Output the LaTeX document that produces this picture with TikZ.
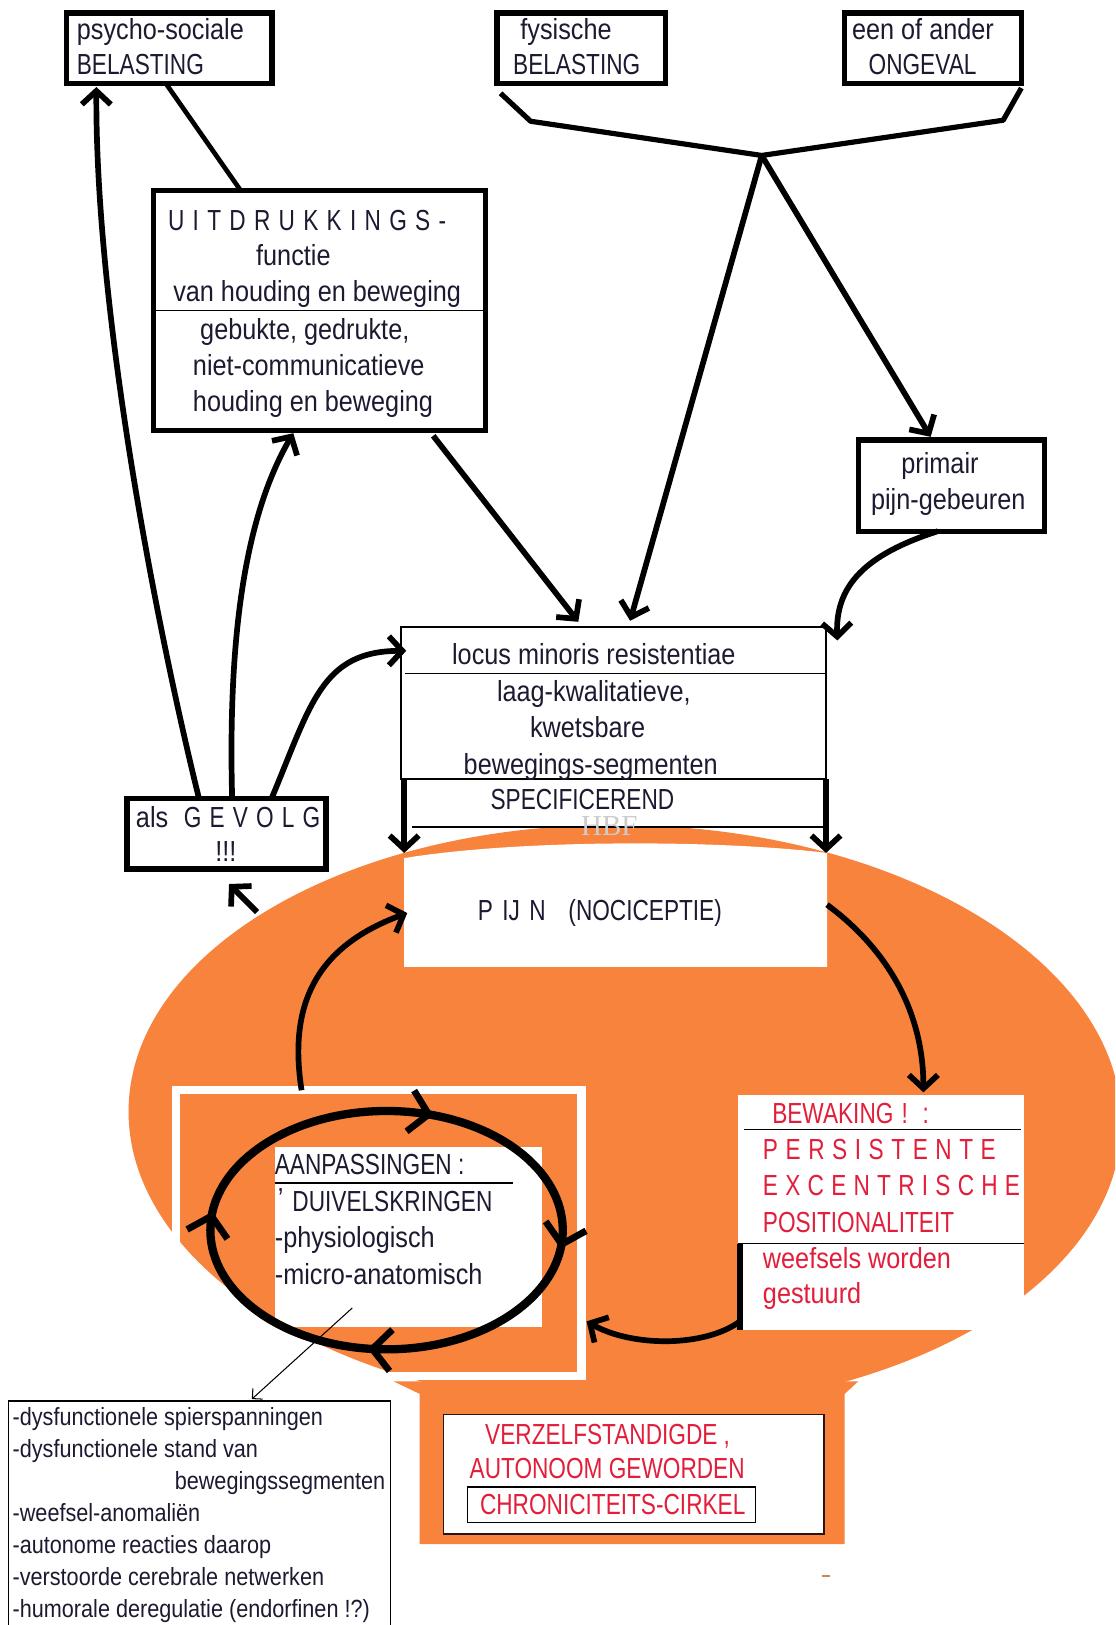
\documentclass[tikz,border=0pt]{standalone}
\usepackage{fontspec}
\setmainfont[FakeStretch=0.87]{Liberation Sans}
\newfontfamily\capf[FakeStretch=0.78]{Liberation Sans}
\newfontfamily\wmf{Liberation Serif}
\usetikzlibrary{arrows.meta,decorations.markings}
\definecolor{ink}{RGB}{28,26,48}
\definecolor{redt}{RGB}{226,30,58}
\definecolor{orng}{RGB}{247,131,61}
\begin{document}
\begin{tikzpicture}[x=1pt,y=-1pt,
  fs/.style={font=\fontsize{28}{34}\selectfont},
  fsc/.style={font=\fontsize{28}{34}\selectfont\capf},
  fsl/.style={font=\fontsize{24}{30}\selectfont},
  lbl/.style={inner sep=0pt, anchor=base west, text=ink, fs},
  clbl/.style={lbl, fsc},
  mlbl/.style={inner sep=0pt, anchor=base, text=ink, fs},
  rlbl/.style={clbl, text=redt},
  rlow/.style={lbl, text=redt},
  llbl/.style={lbl, fsl},
  tbox/.style={draw=black, line width=5pt, inner sep=0pt, outer sep=0pt, fill=white},
  area/.style={inner sep=0pt, outer sep=0pt},
  conn/.style={draw=black, line width=5.5pt},
  arr/.style={conn, -{Straight Barb[length=13pt,width=28pt]}},
  thinl/.style={draw=black, line width=1.6pt},
  ringtip/.style={line width=6.5pt},
]
\useasboundingbox (0,0) rectangle (1076,1568);
\fill[white] (0,0) rectangle (1076,1568);

% ---------- orange background ----------
\begin{scope}
\clip (0,0) rectangle (1076,1568);
\fill[orng, rotate around={-1:(603,1078)}] (603,1078) ellipse [x radius=479, y radius=282];
\fill[orng] (380,1333) -- (828,1333) -- (815,1345) -- (815,1490) -- (405,1490) -- (405,1345) -- cycle;
\end{scope}

% ---------- top boxes ----------
\node[tbox, minimum width=198pt, minimum height=68pt] (ps) at (163.5,46.5) {};
\node[tbox, minimum width=163pt, minimum height=68pt] (fy) at (561,46.5) {};
\node[tbox, minimum width=171pt, minimum height=68pt] (ea) at (900,46.5) {};
\node[lbl] (ps1) at (74,38) {psycho-sociale};
\node[clbl] (ps2) at (74,72) {BELASTING};
\node[lbl] (fy1) at (502,38) {fysische};
\node[clbl] (fy2) at (495,72) {BELASTING};
\node[lbl] (ea1) at (822,38) {een of ander};
\node[clbl] (ea2) at (838,72) {ONGEVAL};

% ---------- UITDRUKKINGS box ----------
\node[tbox, minimum width=320pt, minimum height=232pt] (ui) at (308.5,299.5) {};
\draw[thinl] ([xshift=2pt]ui.west) -- ([xshift=-2pt]ui.east);
\node[clbl] (ui1) at (162,222) {\spaceskip=8pt U I T D R U K K I N G S -};
\node[lbl] (ui2) at (247,256) {functie};
\node[lbl] (ui3) at (167,291) {van houding en beweging};
\node[lbl] (ui4) at (193,328) {gebukte, gedrukte,};
\node[lbl] (ui5) at (186,362) {niet-communicatieve};
\node[lbl] (ui6) at (186,397) {houding en beweging};

% ---------- primair ----------
\node[tbox, minimum width=179pt, minimum height=88pt] (pr) at (918,468.5) {};
\node[mlbl] (pr1) at (907,457) {primair};
\node[mlbl] (pr2) at (915,492) {pijn-gebeuren};

% ---------- locus box ----------
\node[area, draw=black, line width=1.5pt, fill=white, minimum width=410pt, minimum height=147pt] (lo) at (592,678.5) {};
\node[area, fill=white, minimum width=410pt, minimum height=46pt] (sp) at (592,775) {};
\draw[thinl] ([shift={(4pt,28.5pt)}]lo.west) -- ([yshift=28.5pt]lo.east);
\draw[draw=black, line width=2.2pt] (lo.south west) -- (lo.south east);
\draw[thinl] ([xshift=11pt]sp.south west) -- ([xshift=-2pt]sp.south east);
\node[mlbl] (lo1) at (573,641) {locus minoris resistentiae};
\node[mlbl] (lo2) at (573,677) {laag-kwalitatieve,};
\node[mlbl] (lo3) at (567,712) {kwetsbare};
\node[mlbl] (lo4) at (570,747) {bewegings-segmenten};
\node[mlbl, fsc] (lo5) at (562,781) {SPECIFICEREND};

% ---------- PIJN ----------
\fill[white] (390,828) .. controls (500,810) and (690,810) .. (798,823) -- (798,933) -- (390,933) -- cycle;
\node[area, minimum width=408pt, minimum height=110pt] (pj) at (594,878) {};
\node[clbl] (pjt) at (461,888) {P\hspace{9pt}IJ\hspace{9pt}N\hspace{22pt}(NOCICEPTIE)};
\node[inner sep=0pt, anchor=base, font=\fontsize{28}{34}\selectfont\wmf, text=black!20] (hbf) at (588,806) {HBF};

% ---------- als GEVOLG ----------
\node[tbox, minimum width=192pt, minimum height=68pt] (gv) at (218.5,804.5) {};
\node[lbl] (gv1) at (131,798) {als\hspace{15pt}{\capf\spaceskip=7.9pt G E V O L G}};
\node[mlbl] (gv2) at (218,831) {!!!};

% ---------- left box (AANPASSINGEN) ----------
\node[area, draw=white, line width=8pt, minimum width=391pt, minimum height=276pt] (lb) at (365.5,1190) {};
\node[area, fill=white, minimum width=258pt, minimum height=173pt] (aw) at (394,1193.5) {};
\draw[line width=8pt, postaction={decorate}, decoration={markings,
  mark=at position 0.02 with {\arrow[ringtip]{Straight Barb[length=18pt,width=40pt]}},
  mark=at position 0.27 with {\arrow[ringtip]{Straight Barb[length=18pt,width=40pt]}},
  mark=at position 0.52 with {\arrow[ringtip]{Straight Barb[length=18pt,width=40pt]}},
  mark=at position 0.80 with {\arrow[ringtip]{Straight Barb[length=18pt,width=40pt]}}}]
  (373,1187) ellipse [x radius=170, y radius=115];
\node[clbl] (lb1) at (265,1133) {AANPASSINGEN :};
\draw[thinl] ([yshift=52pt]aw.west) -- (495,1141.5);
\node[lbl] (lb2a) at (268,1166) {'};
\node[clbl] (lb2) at (282,1169) {DUIVELSKRINGEN};
\node[lbl] (lb3) at (265,1204) {-physiologisch};
\node[lbl] (lb4) at (265,1239) {-micro-anatomisch};

% ---------- BEWAKING ----------
\node[area, fill=white, minimum width=276pt, minimum height=226pt] (bw) at (850,1170) {};
\draw[thinl] ([shift={(6pt,-33pt)}]bw.north west) -- ([shift={(-3pt,-33pt)}]bw.north east);
\draw[thinl] ([yshift=-143pt]bw.north west) -- ([yshift=-143pt]bw.north east);
\draw[draw=black, line width=5pt] ([shift={(2pt,-143pt)}]bw.north west) -- ([xshift=2pt]bw.south west);
\node[rlbl] (bw1) at (745,1084) {BEWAKING\hspace{8pt}!\hspace{14pt}:};
\node[rlbl] (bw2) at (736,1119) {\spaceskip=7.3pt P E R S I S T E N T E};
\node[rlbl] (bw3) at (736,1154) {\spaceskip=7.0pt E X C E N T R I S C H E};
\node[rlbl] (bw4) at (736,1189) {POSITIONALITEIT};
\node[rlow] (bw5) at (736,1224) {weefsels worden};
\node[rlow] (bw6) at (736,1258) {gestuurd};

% ---------- VERZELFSTANDIGDE ----------
\node[area, draw={rgb,255:red,45;green,20;blue,20}, line width=1.6pt, fill=white, minimum width=367pt, minimum height=115pt] (vz) at (611.5,1422.5) {};
\node[area, draw=black, line width=1.4pt, minimum width=278pt, minimum height=34pt] (cb) at (590,1452) {};
\node[rlbl] (vz1) at (468,1394) {VERZELFSTANDIGDE ,};
\node[rlbl] (vz2) at (453,1427) {AUTONOOM GEWORDEN};
\node[rlbl] (vz3) at (463,1461) {CHRONICITEITS-CIRKEL};

% ---------- list box ----------
\node[area, minimum width=369pt, minimum height=216pt] (ls) at (192.5,1460) {};
\draw[thinl, line width=1.3pt] (ls.south west) -- (ls.north west) -- (ls.north east) -- (ls.south east);
\node[llbl] (l1) at (12,1375) {-dysfunctionele spierspanningen};
\node[llbl] (l2) at (12,1406) {-dysfunctionele stand van};
\node[llbl, anchor=base east] (l3) at (372,1437) {bewegingssegmenten};
\node[llbl] (l4) at (12,1468) {-weefsel-anomaliën};
\node[llbl] (l5) at (12,1499) {-autonome reacties daarop};
\node[llbl] (l6) at (12,1530) {-verstoorde cerebrale netwerken};
\node[llbl] (l7) at (12,1561) {-humorale deregulatie (endorfinen !?)};

% ---------- connectors ----------
\coordinate (ap) at (735,150);
\draw[conn, line width=5pt, line join=round] ([shift={(3.5pt,-9.5pt)}]fy.south west) -- (512,117) -- (ap) -- (968,116) -- ([yshift=-4.5pt]ea.south east);
\draw[arr] (ap) -- ([shift={(16pt,6pt)}]lo.north);
\draw[arr] (ap) -- ([shift={(-20pt,3pt)}]pr.north);
\draw[arr] ([xshift=-13pt]pr.south) .. controls (835,535) and (806,565) .. ([shift={(11pt,-13pt)}]lo.north east);
\draw[conn, line width=4.5pt] ([xshift=-3.5pt]ps.south) -- ([xshift=-76.5pt]ui.north);
\draw[arr] ([shift={(109.5pt,-5pt)}]ui.south) -- ([shift={(-34pt,5pt)}]lo.north);
\draw[arr] ([xshift=-26.5pt]gv.north) .. controls (150,600) and (92,300) .. ([shift={(28.5pt,-3.5pt)}]ps.south west);
\draw[arr] ([xshift=5.5pt]gv.north) .. controls (220,620) and (235,500) .. ([shift={(-25.5pt,-2.5pt)}]ui.south);
\draw[arr] ([xshift=43.5pt]gv.north) .. controls (300,680) and (310,628) .. ([shift={(5pt,50.5pt)}]lo.west);
\coordinate (g0) at (248,880);
\draw[arr] (g0) -- ([shift={(2.5pt,-14.5pt)}]gv.south);
\draw[arr] ([xshift=3pt]lo.south west) -- (pj.north west);
\draw[arr] (lo.south east) -- ([xshift=-1pt]pj.north east);
\draw[arr] ([yshift=5pt]pj.east) .. controls (855,915) and (891,975) .. ([shift={(41pt,3pt)}]bw.north);
\draw[arr] ([shift={(2pt,8pt)}]bw.south west) .. controls (680,1300) and (610,1300) .. ([shift={(5pt,-85pt)}]lb.east);
\draw[arr] ([xshift=-74.5pt]lb.north) .. controls (279,975) and (300,915) .. ([shift={(3pt,-3pt)}]pj.west);
\coordinate (t0) at (340,1262);
\draw[draw=black, line width=1pt, -{Straight Barb[length=7pt,width=14pt]}] (t0) -- ([shift={(50.5pt,2pt)}]ls.north);
\draw[orng!70!gray, line width=2pt] (793,1521) -- (801,1521);
\end{tikzpicture}
\end{document}
